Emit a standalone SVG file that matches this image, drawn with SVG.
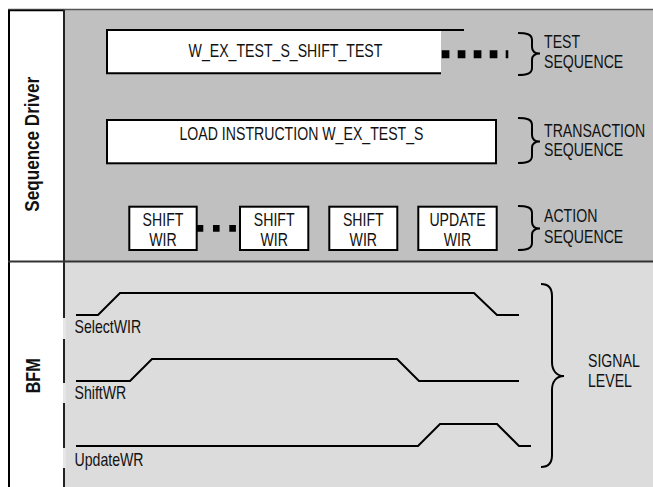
<svg xmlns="http://www.w3.org/2000/svg" width="653" height="487" viewBox="0 0 653 487">
<style>
.t{font-family:"Liberation Sans",Arial,sans-serif;font-size:18px;fill:#111}
.m{text-anchor:middle}
.b{font-weight:bold;font-size:20px}
.box{fill:#fff;stroke:#000;stroke-width:2}
.ln{fill:none;stroke:#000;stroke-width:2}
.dot{fill:none;stroke:#000}
</style>
<g id="background">
<rect x="8" y="10" width="56" height="480" fill="#fff"/>
<rect x="64" y="10" width="589" height="251.5" fill="#c0c0c0"/>
<rect x="64" y="261.5" width="589" height="226" fill="#dcdcdc"/>
<line x1="8" y1="9.5" x2="653" y2="9.5" stroke="#555" stroke-width="1.5"/>
<line x1="9" y1="10" x2="9" y2="487" stroke="#000" stroke-width="2"/>
<line x1="8" y1="10.5" x2="64" y2="10.5" stroke="#000" stroke-width="1.5"/>
<line x1="64" y1="10" x2="64" y2="487" stroke="#222" stroke-width="2"/>
<line x1="8" y1="261.5" x2="653" y2="261.5" stroke="#333" stroke-width="2"/>
<rect x="63" y="318" width="3" height="21" fill="#e6e6e6"/>
<rect x="63" y="383" width="3" height="20" fill="#e6e6e6"/>
<rect x="63" y="448" width="3" height="20" fill="#e6e6e6"/>
</g>
<g id="sequence-driver-label">
<text class="t b m" transform="translate(38.5,144.2) rotate(-90) scale(0.855,1)">Sequence Driver</text>
</g>
<g id="bfm-label">
<text class="t b m" transform="translate(40,375.8) rotate(-90) scale(0.81,1)">BFM</text>
</g>
<g id="test-box">
<rect x="107" y="30" width="334" height="43.3" fill="#fff"/>
<path class="ln" d="M464,30 H107 V73.3 H441"/>
<text class="t m" transform="translate(285.5,57) scale(0.785,1)">W_EX_TEST_S_SHIFT_TEST</text>
</g>
<g id="transaction-box">
<rect class="box" x="107" y="120" width="389" height="43.3"/>
<text class="t m" transform="translate(301.5,140.3) scale(0.785,1)">LOAD INSTRUCTION W_EX_TEST_S</text>
</g>
<g id="action-1">
<rect class="box" x="129.3" y="206.7" width="67.4" height="43.3"/>
<text class="t m" transform="translate(163,226) scale(0.785,1)">SHIFT</text>
<text class="t m" transform="translate(163,246) scale(0.785,1)">WIR</text>
</g>
<g id="action-2">
<rect class="box" x="240" y="206.7" width="68.3" height="43.3"/>
<text class="t m" transform="translate(274.2,226) scale(0.785,1)">SHIFT</text>
<text class="t m" transform="translate(274.2,246) scale(0.785,1)">WIR</text>
</g>
<g id="action-3">
<rect class="box" x="329.3" y="206.7" width="68" height="43.3"/>
<text class="t m" transform="translate(363.3,226) scale(0.785,1)">SHIFT</text>
<text class="t m" transform="translate(363.3,246) scale(0.785,1)">WIR</text>
</g>
<g id="action-4">
<rect class="box" x="418.3" y="206.7" width="78.4" height="43.3"/>
<text class="t m" transform="translate(457.5,226) scale(0.785,1)">UPDATE</text>
<text class="t m" transform="translate(457.5,246) scale(0.785,1)">WIR</text>
</g>
<g id="test-sequence-label">
<text class="t" transform="translate(544,48.3) scale(0.785,1)">TEST</text>
<text class="t" transform="translate(544,68.3) scale(0.785,1)">SEQUENCE</text>
</g>
<g id="transaction-sequence-label">
<text class="t" transform="translate(544,137) scale(0.785,1)">TRANSACTION</text>
<text class="t" transform="translate(544,156) scale(0.785,1)">SEQUENCE</text>
</g>
<g id="action-sequence-label">
<text class="t" transform="translate(544,222) scale(0.785,1)">ACTION</text>
<text class="t" transform="translate(544,243) scale(0.785,1)">SEQUENCE</text>
</g>
<g id="signal-level-label">
<text class="t" transform="translate(588,367) scale(0.785,1)">SIGNAL</text>
<text class="t" transform="translate(588,387) scale(0.785,1)">LEVEL</text>
</g>
<g id="signal-labels">
<text class="t" transform="translate(74.5,333.3) scale(0.785,1)">SelectWIR</text>
<text class="t" transform="translate(74.5,398.5) scale(0.785,1)">ShiftWR</text>
<text class="t" transform="translate(74.5,465.5) scale(0.785,1)">UpdateWR</text>
</g>
<g id="connectors">
<line class="dot" x1="441.7" y1="54.3" x2="508.3" y2="54.3" stroke-width="8" stroke-dasharray="7.7 8.3"/>
<line class="dot" x1="196.7" y1="228.3" x2="236" y2="228.3" stroke-width="6.7" stroke-dasharray="6.6 9.7"/>
<path class="ln" d="M518,33 C526,33 532,34 532,40 L532,47 C532,51 535,53.5 540,53.5 C535,53.5 532,56 532,60 L532,68 C532,74 526,75 518,75"/>
<path class="ln" d="M518,118 C526,118 532,119 532,125 L532,135 C532,139 535,141.5 540,141.5 C535,141.5 532,144 532,148 L532,156 C532,162 526,163 518,163"/>
<path class="ln" d="M518,206 C526,206 532,207 532,213 L532,222 C532,226 535,228.5 540,228.5 C535,228.5 532,231 532,235 L532,243 C532,249 526,250 518,250"/>
<path class="ln" d="M541,284 C548,284 552,288 552,296 L552,362 C552,370 556,376 564,376 C556,376 552,382 552,390 L552,455 C552,463 548,467 541,467"/>
<path class="ln" d="M76,315 H98 L120,293 H474 L497,315 H519"/>
<path class="ln" d="M76,381 H130 L152,359 H397 L419,381 H519"/>
<path class="ln" d="M76,446 H418 L440,424 H497 L519,446 H531"/>
</g>
</svg>
